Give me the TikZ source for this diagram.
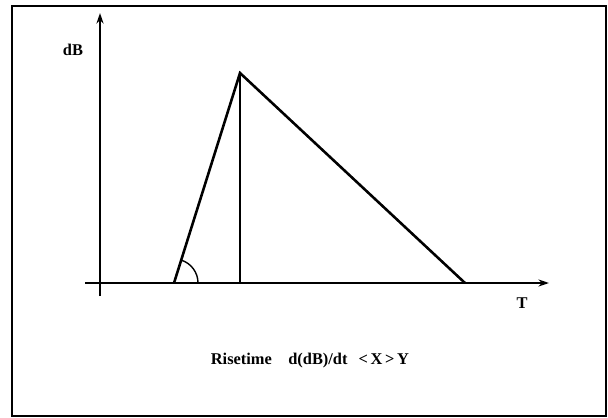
\documentclass[tikz,border=0pt]{standalone}
\usepackage{fontspec}
\setmainfont{Liberation Serif}
\usepackage{tikz}
\usetikzlibrary{arrows.meta, positioning, calc}
\tikzset{
    axis/.style={draw,-{Stealth[length=9pt,width=6pt]},line width=1.6pt},
    leg/.style={draw,line width=2.2pt,line join=miter},
    frame/.style={draw,line width=1.6pt},
    lbl/.style={font=\bfseries\fontsize{14}{16}\selectfont, inner sep=0pt}
}
\begin{document}
\begin{tikzpicture}[x=0.03cm, y=-0.03cm]
        \useasboundingbox (0,0) rectangle (608,418);
        \draw [frame] (12,6) rectangle (606,416);

        % Points
        \coordinate (origin) at (100,283);
        \coordinate (xstart) at (85,283);
        \coordinate (xend) at (549,283);
        \coordinate (ystart) at (100,296);
        \coordinate (yend) at (100,13);
        \coordinate (left) at (174,283);
        \coordinate (apex) at (240,73);
        \coordinate (foot) at (240,283);
        \coordinate (right) at (465,283);

        % Axes
        \draw [axis] (xstart) -- (xend);
        \draw [axis] (ystart) -- (yend);

        % Triangle
        \draw [leg] (left) -- (apex) -- (right);
        \draw [line width=1.4pt] (apex) -- (foot);
        \draw [line width=1.2pt] ($(left)+(24,0)$) arc[start angle=0, end angle=-73, radius=24];

        % Labels
        \node [lbl] (db) at (73,50) {dB};
        \node [lbl] (t) at (522,303) {T};
        \node [lbl] (rise) at (310,361) {Risetime\quad d(dB)/dt \ \,<\,X\,>\,Y};
    \end{tikzpicture}
\end{document}
